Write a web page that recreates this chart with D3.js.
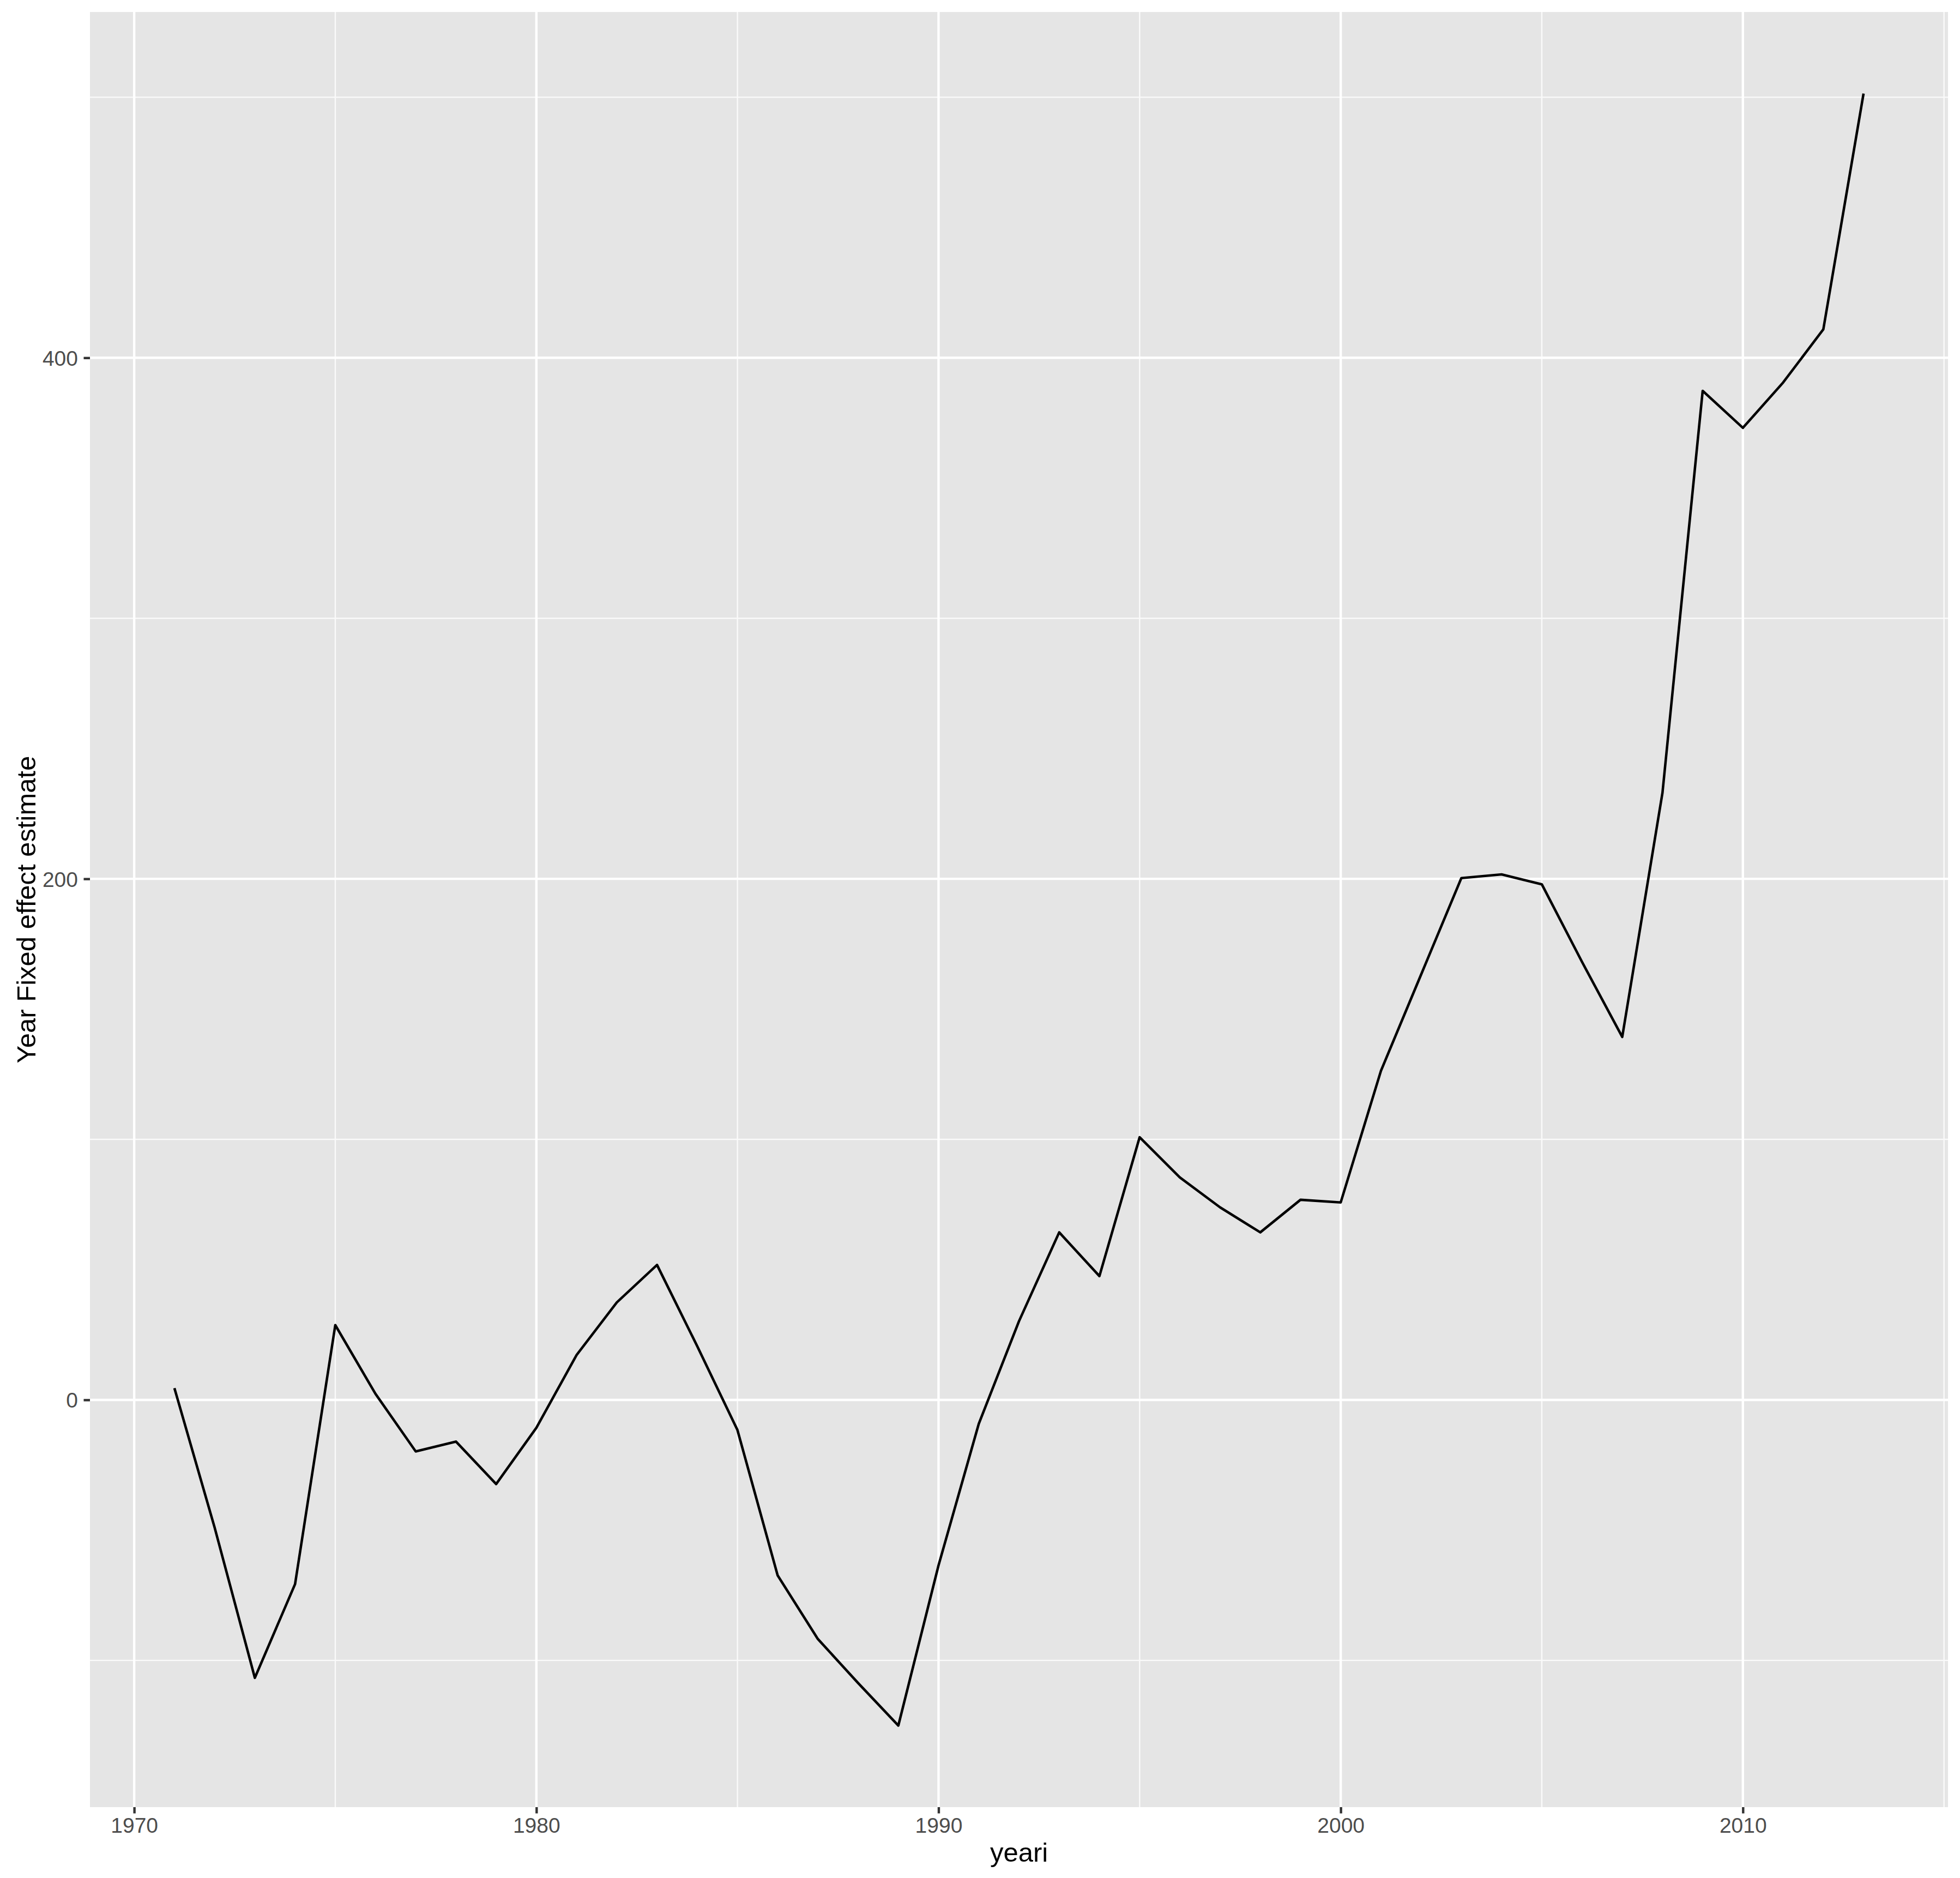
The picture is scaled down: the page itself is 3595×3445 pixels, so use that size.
<!DOCTYPE html>
<html>
<head>
<meta charset="utf-8">
<script src="https://cdn.jsdelivr.net/npm/d3@7"></script>
<style>
  html, body { margin: 0; padding: 0; background: #ffffff; }
  svg { display: block; }
  text { font-family: "Liberation Sans", Arial, Helvetica, sans-serif; }
</style>
</head>
<body>
<script>
// ---- data ----
const years = [1971,1972,1973,1974,1975,1976,1977,1978,1979,1980,
               1981,1982,1983,1984,1985,1986,1987,1988,1989,1990,
               1991,1992,1993,1994,1995,1996,1997,1998,1999,2000,
               2001,2002,2003,2004,2005,2006,2007,2008,2009,2010,
               2011,2012,2013];
const estimates = [4.5,-49,-106.7,-70.7,28.7,2.3,-19.8,-16.0,-32.3,-10.7,
                   17.2,37.4,51.8,20.6,-11.6,-67.4,-91.8,-108.7,-125.0,-63.5,
                   -9.2,30.2,64.3,47.5,100.8,85.4,73.9,64.3,76.8,75.8,
                   126.3,163.3,200.3,201.7,197.9,168.1,139.3,233.0,387.3,373.1,
                   390.5,410.9,501.4];
const xMajorTicks = [1970,1980,1990,2000,2010];
const xMinorTicks = [1975,1985,1995,2005,2015];
const yMajorTicks = [0,200,400];
const yMinorTicks = [-100,100,300,500];
const xTitle = "yeari";
const yTitle = "Year Fixed effect estimate";

// ---- layout ----
const W = 3595, H = 3445;
const panel = {left: 165, right: 3573, top: 22, bottom: 3315};

const svg = d3.select("body").append("svg").attr("width", W).attr("height", H);

const xr = d3.extent(years), yr = d3.extent(estimates);
const xe = (xr[1]-xr[0])*0.05, ye = (yr[1]-yr[0])*0.05;
const x = d3.scaleLinear().domain([xr[0]-xe, xr[1]+xe]).range([panel.left, panel.right]);
const y = d3.scaleLinear().domain([yr[0]-ye, yr[1]+ye]).range([panel.bottom, panel.top]);

// panel background
svg.append("rect")
  .attr("x", panel.left).attr("y", panel.top)
  .attr("width", panel.right-panel.left).attr("height", panel.bottom-panel.top)
  .attr("fill", "#E5E5E5");

const grid = svg.append("g");
// minor grid
grid.selectAll(".xminor").data(xMinorTicks.filter(d => x(d) >= panel.left && x(d) <= panel.right))
  .enter().append("line")
  .attr("x1", d => x(d)).attr("x2", d => x(d)).attr("y1", panel.top).attr("y2", panel.bottom)
  .attr("stroke", "#FAFAFA").attr("stroke-width", 2.4);
grid.selectAll(".yminor").data(yMinorTicks.filter(d => y(d) >= panel.top && y(d) <= panel.bottom))
  .enter().append("line")
  .attr("x1", panel.left).attr("x2", panel.right).attr("y1", d => y(d)).attr("y2", d => y(d))
  .attr("stroke", "#FAFAFA").attr("stroke-width", 2.4);
// major grid
grid.selectAll(".xmajor").data(xMajorTicks)
  .enter().append("line")
  .attr("x1", d => x(d)).attr("x2", d => x(d)).attr("y1", panel.top).attr("y2", panel.bottom)
  .attr("stroke", "#FFFFFF").attr("stroke-width", 4.4);
grid.selectAll(".ymajor").data(yMajorTicks)
  .enter().append("line")
  .attr("x1", panel.left).attr("x2", panel.right).attr("y1", d => y(d)).attr("y2", d => y(d))
  .attr("stroke", "#FFFFFF").attr("stroke-width", 4.4);

// line
const line = d3.line().x((d,i) => x(years[i])).y(d => y(d));
svg.append("path")
  .datum(estimates)
  .attr("d", line)
  .attr("fill", "none")
  .attr("stroke", "#000000")
  .attr("stroke-width", 4.6)
  .attr("stroke-linejoin", "round")
  .attr("stroke-linecap", "butt");

// axes
const xAxis = d3.axisBottom(x).tickValues(xMajorTicks).tickFormat(d3.format("d"))
  .tickSizeInner(11.5).tickSizeOuter(0).tickPadding(7);
const gx = svg.append("g").attr("transform", `translate(0,${panel.bottom})`).call(xAxis);
gx.select(".domain").remove();
gx.selectAll(".tick line").attr("stroke", "#333333").attr("stroke-width", 4.4);
gx.selectAll(".tick text").attr("fill", "#4D4D4D").attr("font-size", 39)
  .attr("dy", "0.71em").attr("y", 19);

const yAxis = d3.axisLeft(y).tickValues(yMajorTicks).tickFormat(d3.format("d"))
  .tickSizeInner(11.5).tickSizeOuter(0).tickPadding(10.5);
const gy = svg.append("g").attr("transform", `translate(${panel.left},0)`).call(yAxis);
gy.select(".domain").remove();
gy.selectAll(".tick line").attr("stroke", "#333333").attr("stroke-width", 4.4);
gy.selectAll(".tick text").attr("fill", "#4D4D4D").attr("font-size", 39).attr("dy", "0.36em");

// titles
svg.append("text")
  .attr("x", (panel.left+panel.right)/2).attr("y", 3415)
  .attr("text-anchor", "middle").attr("font-size", 49).attr("fill", "#000000")
  .text(xTitle);
svg.append("text")
  .attr("transform", `translate(65,${(panel.top+panel.bottom)/2}) rotate(-90)`)
  .attr("text-anchor", "middle").attr("font-size", 49).attr("fill", "#000000")
  .text(yTitle);
</script>
</body>
</html>
